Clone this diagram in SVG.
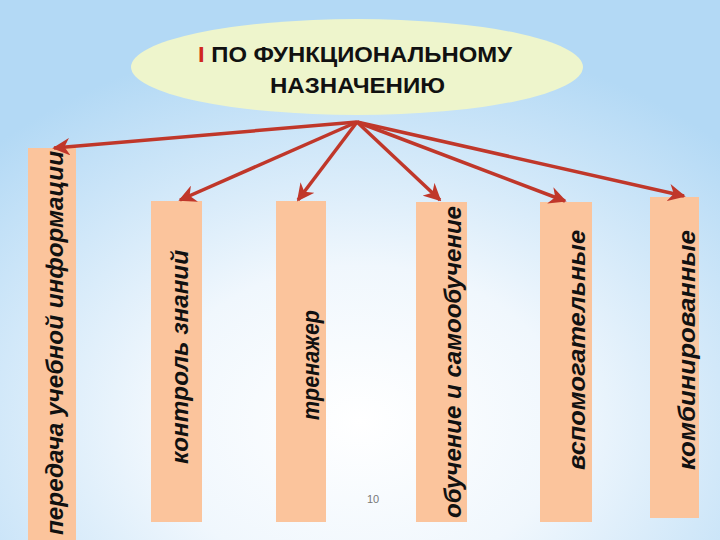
<svg xmlns="http://www.w3.org/2000/svg" width="720" height="540" viewBox="0 0 720 540">
<defs>
<radialGradient id="bg" cx="0.5" cy="0.78" r="0.72">
<stop offset="0" stop-color="#ffffff"/><stop offset="0.4" stop-color="#f0f7fd"/><stop offset="1" stop-color="#b3d9f5"/>
</radialGradient>
<marker id="ah" viewBox="0 0 10 10" refX="9" refY="5" markerWidth="5" markerHeight="5" orient="auto" markerUnits="strokeWidth">
<path d="M0,0 L10,5 L0,10 L3,5 Z" fill="#c0372a"/>
</marker>
<style>
.bar{fill:#fbc49c}
.lbl{font-family:"Liberation Sans",Arial,sans-serif;font-weight:bold;font-style:italic;font-size:23px;fill:#111;text-anchor:middle}
.ar{stroke:#c0372a;stroke-width:3.5;fill:none;marker-end:url(#ah)}
.tt{font-family:"Liberation Sans",Arial,sans-serif;font-weight:bold;font-size:22px;fill:#111}
</style>
</defs>
<rect width="720" height="540" fill="url(#bg)"/>
<g id="title">
<ellipse cx="357" cy="67" rx="226" ry="48" fill="#eef5cc"/>
<text class="tt" x="198" y="62" textLength="314" lengthAdjust="spacingAndGlyphs"><tspan fill="#d0281e">I</tspan> ПО ФУНКЦИОНАЛЬНОМУ</text>
<text class="tt" x="270" y="93" textLength="175" lengthAdjust="spacingAndGlyphs">НАЗНАЧЕНИЮ</text>
</g>
<g id="n1"><rect class="bar" x="28" y="148" width="48" height="392"/><text class="lbl" transform="translate(63,343) rotate(-90)" textLength="384" lengthAdjust="spacingAndGlyphs">передача учебной информации</text></g>
<g id="n2"><rect class="bar" x="151" y="201" width="51" height="321"/><text class="lbl" transform="translate(188,357) rotate(-90)" textLength="214" lengthAdjust="spacingAndGlyphs">контроль знаний</text></g>
<g id="n3"><rect class="bar" x="276" y="201" width="50" height="321"/><text class="lbl" transform="translate(319,365) rotate(-90)" textLength="110" lengthAdjust="spacingAndGlyphs">тренажер</text></g>
<g id="n4"><rect class="bar" x="416" y="202" width="51" height="320"/><text class="lbl" transform="translate(461,362) rotate(-90)" textLength="312" lengthAdjust="spacingAndGlyphs">обучение и самообучение</text></g>
<g id="n5"><rect class="bar" x="540" y="202" width="52" height="320"/><text class="lbl" transform="translate(585,350) rotate(-90)" textLength="240" lengthAdjust="spacingAndGlyphs">вспомогательные</text></g>
<g id="n6"><rect class="bar" x="650" y="197" width="49" height="321"/><text class="lbl" transform="translate(695,350) rotate(-90)" textLength="240" lengthAdjust="spacingAndGlyphs">комбинированные</text></g>
<g id="connectors">
<line class="ar" x1="357" y1="122" x2="54" y2="148"/>
<line class="ar" x1="357" y1="122" x2="180" y2="200"/>
<line class="ar" x1="357" y1="122" x2="298" y2="200"/>
<line class="ar" x1="357" y1="122" x2="440" y2="200"/>
<line class="ar" x1="357" y1="122" x2="565" y2="201"/>
<line class="ar" x1="357" y1="122" x2="684" y2="196"/>
</g>
<text x="373" y="503" font-family="Liberation Sans,Arial,sans-serif" font-size="11" fill="#777" text-anchor="middle">10</text>
</svg>
